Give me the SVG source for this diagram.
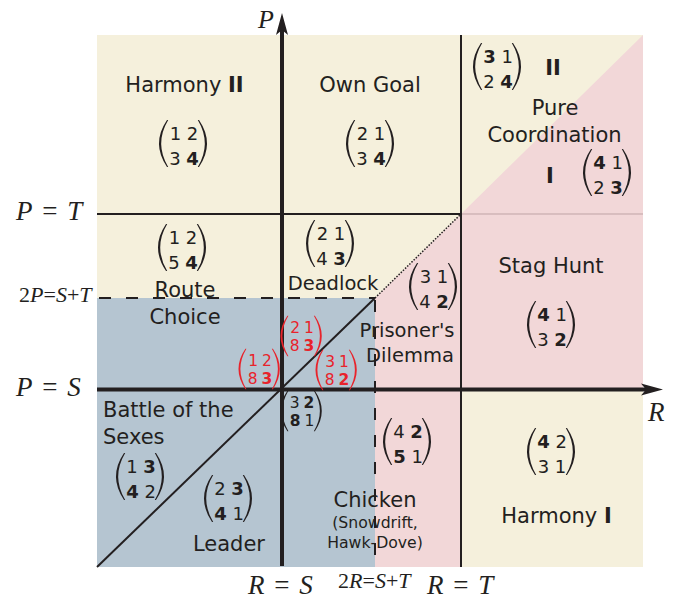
<svg xmlns="http://www.w3.org/2000/svg" xmlns:xlink="http://www.w3.org/1999/xlink" width="673" height="600" viewBox="0 0 673 600">
<style>
.lbl{font-family:"DejaVu Sans","Noto Sans",sans-serif;font-size:21px;fill:#231f20}
.sm{font-size:19.5px}
.xs{font-size:15.7px}
.mid{text-anchor:middle}
.m{font-family:"DejaVu Sans","Noto Sans",sans-serif;font-size:18px;fill:#231f20;text-anchor:middle}
.red .m{fill:#e8232b}
.ms{word-spacing:-1px}
.b{font-weight:bold}
.math{font-family:"Liberation Serif","Times New Roman",serif;font-size:27px;fill:#231f20;word-spacing:3px}
.small{font-size:22px;word-spacing:0}
.i{font-style:italic}
.axis{stroke:#231f20;stroke-width:4;fill:none}
.ln{stroke:#231f20;stroke-width:2;fill:none}
.dash{stroke:#231f20;stroke-width:2;stroke-dasharray:12 15;fill:none}
.dot{stroke:#231f20;stroke-width:1.5;stroke-dasharray:1.5 1.5;fill:none}
.faint{stroke:#bfa3a5;stroke-width:1;fill:none}
</style>
<defs>
<path id="lp" d="M-17,-20 Q-33,3.5 -17,27 L-15.8,27 Q-29.8,3.5 -15.8,-20 Z"/>
<path id="rp" d="M15,-20 Q31,3.5 15,27 L13.8,27 Q27.8,3.5 13.8,-20 Z"/>
<marker id="arr" markerUnits="userSpaceOnUse" markerWidth="24" markerHeight="14" viewBox="0 -7 24 14" refX="5" refY="0" orient="auto">
<path d="M0,-6 L22,0 L0,6 L5,0 Z" fill="#231f20"/>
</marker>
</defs>

<g id="regions">
<rect x="97" y="35" width="546" height="532" fill="#f5f0dc"/>
<polygon points="643,35 643,389 461,389 461,567 375,567 375,298 461,214" fill="#f2d7d8"/>
<rect x="97" y="298" width="278" height="269" fill="#b5c5d1"/>
</g>

<g id="connectors">
<line class="faint" x1="461" y1="214" x2="643" y2="214"/>
<line class="ln" x1="97" y1="214" x2="461" y2="214"/>
<line class="ln" x1="461" y1="35" x2="461" y2="567"/>
<line class="dash" x1="99" y1="298" x2="375" y2="298"/>
<line class="dash" x1="375" y1="300" x2="375" y2="567"/>
<line class="ln" x1="97" y1="567" x2="375" y2="298"/>
<line class="dot" x1="375" y1="298" x2="461" y2="214"/>
<line class="axis" x1="282" y1="566" x2="282" y2="30" marker-end="url(#arr)"/>
<line class="axis" x1="97" y1="389.5" x2="646" y2="389.5" marker-end="url(#arr)"/>
</g>

<g id="axis-labels">
<text class="math" x="258" y="28" style="font-size:26px"><tspan class="i">P</tspan></text>
<text class="math" x="648" y="421"><tspan class="i">R</tspan></text>
<text class="math" x="16" y="220"><tspan class="i">P</tspan> = <tspan class="i">T</tspan></text>
<text class="math small" x="19" y="302">2<tspan class="i">P</tspan>=<tspan class="i">S</tspan>+<tspan class="i">T</tspan></text>
<text class="math" x="16" y="396"><tspan class="i">P</tspan> = <tspan class="i">S</tspan></text>
<text class="math" x="248" y="594"><tspan class="i">R</tspan> = <tspan class="i">S</tspan></text>
<text class="math small" x="338" y="588">2<tspan class="i">R</tspan>=<tspan class="i">S</tspan>+<tspan class="i">T</tspan></text>
<text class="math" x="427" y="594"><tspan class="i">R</tspan> = <tspan class="i">T</tspan></text>
</g>

<g id="harmony-II">
<text class="lbl mid" x="184.5" y="92">Harmony <tspan class="b">II</tspan></text>
<g transform="translate(184,140)"><use href="#lp" fill="#231f20"/><use href="#rp" fill="#231f20"/><text class="m">1 2</text><text class="m" y="24.5">3 <tspan class="b">4</tspan></text></g>
</g>

<g id="own-goal">
<text class="lbl mid" x="370" y="92">Own Goal</text>
<g transform="translate(371,140)"><use href="#lp" fill="#231f20"/><use href="#rp" fill="#231f20"/><text class="m">2 1</text><text class="m" y="24.5">3 <tspan class="b">4</tspan></text></g>
</g>

<g id="pure-coordination">
<g transform="translate(498,63)"><use href="#lp" fill="#231f20"/><use href="#rp" fill="#231f20"/><text class="m"><tspan class="b">3</tspan> 1</text><text class="m" y="24.5">2 <tspan class="b">4</tspan></text></g>
<text class="lbl mid b" x="553" y="75">II</text>
<text class="lbl mid" x="555" y="115">Pure</text>
<text class="lbl mid" x="554.5" y="142">Coordination</text>
<text class="lbl mid b" x="550" y="183">I</text>
<g transform="translate(608,169)"><use href="#lp" fill="#231f20"/><use href="#rp" fill="#231f20"/><text class="m"><tspan class="b">4</tspan> 1</text><text class="m" y="24.5">2 <tspan class="b">3</tspan></text></g>
</g>

<g id="route-choice">
<g transform="translate(183,244)"><use href="#lp" fill="#231f20"/><use href="#rp" fill="#231f20"/><text class="m">1 2</text><text class="m" y="24.5">5 <tspan class="b">4</tspan></text></g>
<text class="lbl mid" x="185" y="297">Route</text>
<text class="lbl mid" x="185" y="324">Choice</text>
</g>

<g id="deadlock">
<g transform="translate(331,240)"><use href="#lp" fill="#231f20"/><use href="#rp" fill="#231f20"/><text class="m">2 1</text><text class="m" y="24.5">4 <tspan class="b">3</tspan></text></g>
<text class="lbl sm mid" x="333" y="290">Deadlock</text>
</g>

<g id="prisoners-dilemma">
<g transform="translate(434,283)"><use href="#lp" fill="#231f20"/><use href="#rp" fill="#231f20"/><text class="m">3 1</text><text class="m" y="24.5">4 <tspan class="b">2</tspan></text></g>
<text class="lbl sm mid" x="407" y="337">Prisoner's</text>
<text class="lbl sm mid" x="410" y="362">Dilemma</text>
</g>

<g id="stag-hunt">
<text class="lbl mid" x="551" y="273">Stag Hunt</text>
<g transform="translate(552,321)"><use href="#lp" fill="#231f20"/><use href="#rp" fill="#231f20"/><text class="m"><tspan class="b">4</tspan> 1</text><text class="m" y="24.5">3 <tspan class="b">2</tspan></text></g>
</g>

<g id="boundary-matrices">
<g class="red" transform="translate(302,333) scale(0.86)"><use href="#lp" fill="#e8232b"/><use href="#rp" fill="#e8232b"/><text class="m ms">2 1</text><text class="m ms" y="21.5">8 <tspan class="b">3</tspan></text></g>
<g class="red" transform="translate(260,366) scale(0.86)"><use href="#lp" fill="#e8232b"/><use href="#rp" fill="#e8232b"/><text class="m ms">1 2</text><text class="m ms" y="21.5">8 <tspan class="b">3</tspan></text></g>
<g class="red" transform="translate(337,367) scale(0.86)"><use href="#lp" fill="#e8232b"/><use href="#rp" fill="#e8232b"/><text class="m ms">3 1</text><text class="m ms" y="21.5">8 <tspan class="b">2</tspan></text></g>
<g transform="translate(302,408) scale(0.86)"><use href="#lp" fill="#231f20"/><use href="#rp" fill="#231f20"/><text class="m ms">3 <tspan class="b">2</tspan></text><text class="m ms" y="21.5"><tspan class="b">8</tspan> 1</text></g>
</g>

<g id="battle-of-the-sexes">
<text class="lbl" x="103" y="417">Battle of the</text>
<text class="lbl" x="103" y="444">Sexes</text>
<g transform="translate(141,473)"><use href="#lp" fill="#231f20"/><use href="#rp" fill="#231f20"/><text class="m">1 <tspan class="b">3</tspan></text><text class="m" y="24.5"><tspan class="b">4</tspan> 2</text></g>
</g>

<g id="leader">
<g transform="translate(229,495)"><use href="#lp" fill="#231f20"/><use href="#rp" fill="#231f20"/><text class="m">2 <tspan class="b">3</tspan></text><text class="m" y="24.5"><tspan class="b">4</tspan> 1</text></g>
<text class="lbl mid" x="229" y="551">Leader</text>
</g>

<g id="chicken">
<g transform="translate(408,438)"><use href="#lp" fill="#231f20"/><use href="#rp" fill="#231f20"/><text class="m">4 <tspan class="b">2</tspan></text><text class="m" y="24.5"><tspan class="b">5</tspan> 1</text></g>
<text class="lbl mid" x="375" y="507">Chicken</text>
<text class="lbl xs mid" x="375" y="528">(Snowdrift,</text>
<text class="lbl xs mid" x="375" y="548">Hawk-Dove)</text>
</g>

<g id="harmony-I">
<g transform="translate(552,448)"><use href="#lp" fill="#231f20"/><use href="#rp" fill="#231f20"/><text class="m"><tspan class="b">4</tspan> 2</text><text class="m" y="24.5">3 1</text></g>
<text class="lbl mid" x="556.5" y="523">Harmony <tspan class="b">I</tspan></text>
</g>
</svg>
